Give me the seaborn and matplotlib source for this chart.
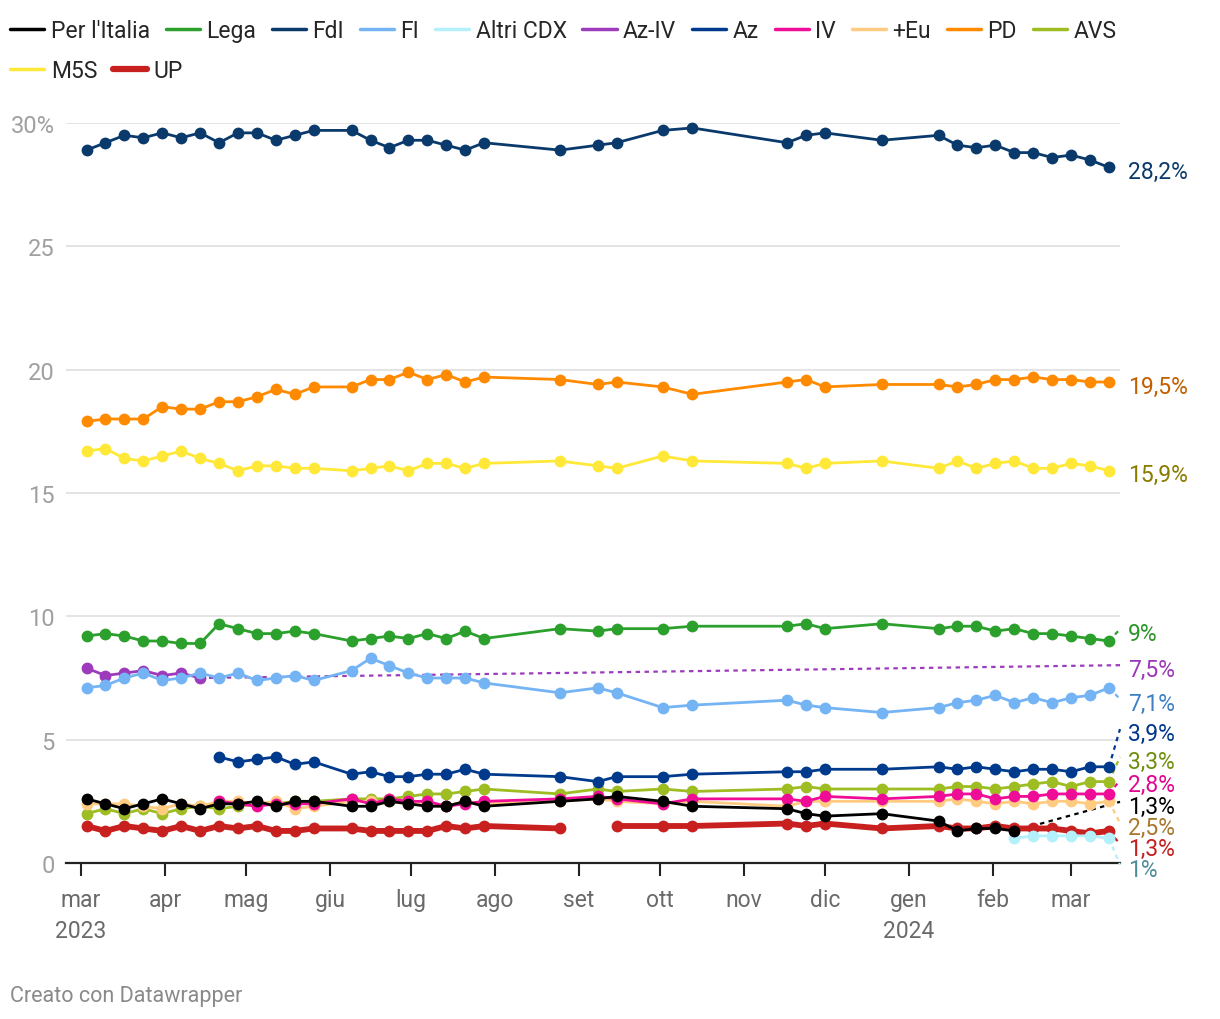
import numpy as np
import pandas as pd
import matplotlib
matplotlib.use("Agg")
import matplotlib.pyplot as plt
import matplotlib.transforms as mtrans
from matplotlib.lines import Line2D
import seaborn as sns

N = None
dates = ["2023-03-03", "2023-03-10", "2023-03-17", "2023-03-24", "2023-03-31",
         "2023-04-07", "2023-04-14", "2023-04-21", "2023-04-28", "2023-05-05",
         "2023-05-12", "2023-05-19", "2023-05-26", "2023-06-09", "2023-06-16",
         "2023-06-23", "2023-06-30", "2023-07-07", "2023-07-14", "2023-07-21",
         "2023-07-28", "2023-08-25", "2023-09-08", "2023-09-15", "2023-10-02",
         "2023-10-13", "2023-11-17", "2023-11-24", "2023-12-01", "2023-12-22",
         "2024-01-12", "2024-01-19", "2024-01-26", "2024-02-02", "2024-02-09",
         "2024-02-16", "2024-02-23", "2024-03-01", "2024-03-08", "2024-03-15"]

per_italia = [2.6, 2.4, 2.2, 2.4, 2.6, 2.4, 2.2, 2.4, 2.4, 2.5, 2.3, 2.5, 2.5,
              2.3, 2.3, 2.5, 2.4, 2.3, 2.3, 2.5, 2.3,
              2.5, 2.6, 2.7, 2.5, 2.3, 2.2, 2.0, 1.9, 2.0,
              1.7, 1.3, 1.4, 1.4, 1.3, N, N, N, N, N]
lega = [9.2, 9.3, 9.2, 9.0, 9.0, 8.9, 8.9, 9.7, 9.5, 9.3, 9.3, 9.4, 9.3,
        9.0, 9.1, 9.2, 9.1, 9.3, 9.1, 9.4, 9.1,
        9.5, 9.4, 9.5, 9.5, 9.6, 9.6, 9.7, 9.5, 9.7,
        9.5, 9.6, 9.6, 9.4, 9.5, 9.3, 9.3, 9.2, 9.1, 9.0]
fdi = [28.9, 29.2, 29.5, 29.4, 29.6, 29.4, 29.6, 29.2, 29.6, 29.6, 29.3, 29.5, 29.7,
       29.7, 29.3, 29.0, 29.3, 29.3, 29.1, 28.9, 29.2,
       28.9, 29.1, 29.2, 29.7, 29.8, 29.2, 29.5, 29.6, 29.3,
       29.5, 29.1, 29.0, 29.1, 28.8, 28.8, 28.6, 28.7, 28.5, 28.2]
fi = [7.1, 7.2, 7.5, 7.7, 7.4, 7.5, 7.7, 7.5, 7.7, 7.4, 7.5, 7.6, 7.4,
      7.8, 8.3, 8.0, 7.7, 7.5, 7.5, 7.5, 7.3,
      6.9, 7.1, 6.9, 6.3, 6.4, 6.6, 6.4, 6.3, 6.1,
      6.3, 6.5, 6.6, 6.8, 6.5, 6.7, 6.5, 6.7, 6.8, 7.1]
altri_cdx = [N] * 34 + [1.0, 1.1, 1.1, 1.1, 1.1, 1.0]
az_iv = [7.9, 7.6, 7.7, 7.8, 7.6, 7.7, 7.5] + [N] * 33
az = [N] * 7 + [4.3, 4.1, 4.2, 4.3, 4.0, 4.1,
                3.6, 3.7, 3.5, 3.5, 3.6, 3.6, 3.8, 3.6,
                3.5, 3.3, 3.5, 3.5, 3.6, 3.7, 3.7, 3.8, 3.8,
                3.9, 3.8, 3.9, 3.8, 3.7, 3.8, 3.8, 3.7, 3.9, 3.9]
iv = [N] * 7 + [2.5, 2.4, 2.3, 2.4, 2.4, 2.4,
                2.6, 2.4, 2.6, 2.5, 2.5, 2.3, 2.4, 2.5,
                2.6, 2.7, 2.6, 2.4, 2.6, 2.6, 2.5, 2.7, 2.6,
                2.7, 2.8, 2.8, 2.6, 2.7, 2.7, 2.8, 2.8, 2.8, 2.8]
piu_eu = [2.4, 2.4, 2.4, 2.3, 2.2, 2.4, 2.3, 2.5, 2.5, 2.4, 2.5, 2.2, 2.3,
          2.5, 2.5, 2.5, 2.4, 2.4, 2.3, 2.5, 2.4,
          2.5, 2.6, 2.5, 2.4, 2.5, 2.3, 2.5, 2.5, 2.5,
          2.5, 2.6, 2.5, 2.4, 2.5, 2.4, 2.5, 2.5, 2.4, 2.5]
pd_vals = [17.9, 18.0, 18.0, 18.0, 18.5, 18.4, 18.4, 18.7, 18.7, 18.9, 19.2, 19.0, 19.3,
           19.3, 19.6, 19.6, 19.9, 19.6, 19.8, 19.5, 19.7,
           19.6, 19.4, 19.5, 19.3, 19.0, 19.5, 19.6, 19.3, 19.4,
           19.4, 19.3, 19.4, 19.6, 19.6, 19.7, 19.6, 19.6, 19.5, 19.5]
avs = [2.0, 2.2, 2.0, 2.2, 2.0, 2.2, 2.3, 2.2, 2.3, 2.4, 2.4, 2.5, 2.5,
       2.6, 2.6, 2.6, 2.7, 2.8, 2.8, 2.9, 3.0,
       2.8, 3.0, 2.9, 3.0, 2.9, 3.0, 3.1, 3.0, 3.0,
       3.0, 3.1, 3.1, 3.0, 3.1, 3.2, 3.3, 3.1, 3.3, 3.3]
m5s = [16.7, 16.8, 16.4, 16.3, 16.5, 16.7, 16.4, 16.2, 15.9, 16.1, 16.1, 16.0, 16.0,
       15.9, 16.0, 16.1, 15.9, 16.2, 16.2, 16.0, 16.2,
       16.3, 16.1, 16.0, 16.5, 16.3, 16.2, 16.0, 16.2, 16.3,
       16.0, 16.3, 16.0, 16.2, 16.3, 16.0, 16.0, 16.2, 16.1, 15.9]
up = [1.5, 1.3, 1.5, 1.4, 1.3, 1.5, 1.3, 1.5, 1.4, 1.5, 1.3, 1.3, 1.4,
      1.4, 1.3, 1.3, 1.3, 1.3, 1.5, 1.4, 1.5,
      1.4, N, 1.5, 1.5, 1.5, 1.6, 1.5, 1.6, 1.4,
      1.5, 1.4, 1.4, 1.5, 1.4, 1.4, 1.4, 1.3, 1.2, 1.3]

parties = ["Per l'Italia", "Lega", "FdI", "FI", "Altri CDX", "Az-IV", "Az", "IV",
           "+Eu", "PD", "AVS", "M5S", "UP"]
values = [per_italia, lega, fdi, fi, altri_cdx, az_iv, az, iv, piu_eu, pd_vals, avs, m5s, up]
end_labels = ["1,3%", "9%", "28,2%", "7,1%", "1%", "7,5%", "3,9%", "2,8%", "2,5%",
              "19,5%", "3,3%", "15,9%", "1,3%"]

# styles / layout
line_colors = ["#000000", "#2ca02c", "#0a3a6b", "#74b4f4", "#b4f0fc", "#9c3cbc",
               "#003a8c", "#ef0d98", "#ffcb80", "#ff8a00", "#9dbd22", "#ffe838", "#c8201f"]
label_colors = ["#000000", "#2a962a", "#0a3a6b", "#3f80c4", "#4f8c99", "#9b38b8",
                "#00378c", "#e1068f", "#a8782c", "#c25f00", "#6f8e0c", "#8a7c00", "#c41e1e"]
label_slots = [2.48, 9.48, 28.2, 6.65, -0.08, 8.02, 5.43, 3.35, 1.62, 19.5, 4.30, 15.9, 0.77]

sns.set_theme(style="white")
plt.rcParams["font.family"] = ["Roboto", "DejaVu Sans"]

W, H = 1220, 1020
fig = plt.figure(figsize=(W / 100, H / 100), dpi=100)
ax = fig.add_axes([66 / W, 1 - 864 / H, (1120 - 66) / W, (864 - 124) / H])

dt = pd.to_datetime(dates)
x_left = pd.Timestamp("2023-02-23 10:00")
x_right = pd.Timestamp("2024-03-19 02:00")

for i in reversed(range(len(parties))):
    df = pd.DataFrame({"date": dt, "v": pd.array(values[i], dtype="Float64").astype(float)})
    df["seg"] = df["v"].isna().cumsum()
    df = df.dropna()
    lw = 4.2 if parties[i] == "UP" else 2.0
    sns.lineplot(data=df, x="date", y="v", units="seg", estimator=None,
                 color=line_colors[i], lw=lw, marker="o", markersize=8.5,
                 markeredgewidth=0, ax=ax, legend=False, zorder=10 + (13 - i),
                 clip_on=False)
    # connector + end label
    last = df.iloc[-1]
    slot = label_slots[i]
    if abs(slot - last["v"]) > 0.05:
        ax.plot([last["date"], x_right], [last["v"], slot], ls=(0, (2, 2)),
                color=line_colors[i], lw=1.6, clip_on=False, zorder=5)
    trans = mtrans.blended_transform_factory(ax.transAxes, ax.transData)
    ax.annotate(end_labels[i], xy=(1.0, slot), xycoords=trans, xytext=(6, -3),
                textcoords="offset points", ha="left", va="center",
                fontsize=16.5, color=label_colors[i], annotation_clip=False)

ax.set_xlim(x_left, x_right)
ax.set_ylim(0, 30)

months = pd.date_range("2023-03-01", "2024-03-01", freq="MS")
month_labels = ["mar\n2023", "apr", "mag", "giu", "lug", "ago", "set", "ott", "nov",
                "dic", "gen\n2024", "feb", "mar"]
ax.set_xticks(months)
ax.set_xticklabels(month_labels, fontsize=16.5, color="#6a6a6a", linespacing=1.45)
yt = [0, 5, 10, 15, 20, 25, 30]
ax.set_yticks(yt)
ax.set_yticklabels([str(v) if v < 30 else f"{v}%" for v in yt], fontsize=17, color="#a0a0a0")
ax.tick_params(axis="x", length=9, width=1.5, color="#222222", pad=9, direction="out", bottom=True)
ax.tick_params(axis="y", length=0, pad=8)
ax.set_xlabel("")
ax.set_ylabel("")
ax.grid(False)
ax.yaxis.grid(True, color="#e4e4e4", lw=1.4)
ax.set_axisbelow(True)
for s in ["top", "right", "left"]:
    ax.spines[s].set_visible(False)
ax.spines["bottom"].set_color("#222222")
ax.spines["bottom"].set_linewidth(1.6)
ax.spines["bottom"].set_zorder(3)

handles = [Line2D([0], [0], color=line_colors[i], lw=(4.5 if parties[i] == "UP" else 2.5))
           for i in range(len(parties))]
leg_kw = dict(frameon=False, fontsize=16.5, handlelength=1.5, handletextpad=0.28,
              columnspacing=0.68, borderpad=0, borderaxespad=0, loc="upper left")
fig.legend(handles[:11], parties[:11], ncol=11, bbox_to_anchor=(10 / W, 1 - 20 / H), **leg_kw)
fig.legend(handles[11:], parties[11:], ncol=2, bbox_to_anchor=(10 / W, 1 - 60 / H), **leg_kw)

fig.text(10 / W, 1 - 997 / H, "Creato con Datawrapper", fontsize=15.5, color="#8a8a8a",
         ha="left", va="center")

fig.savefig("out.png", dpi=100)
